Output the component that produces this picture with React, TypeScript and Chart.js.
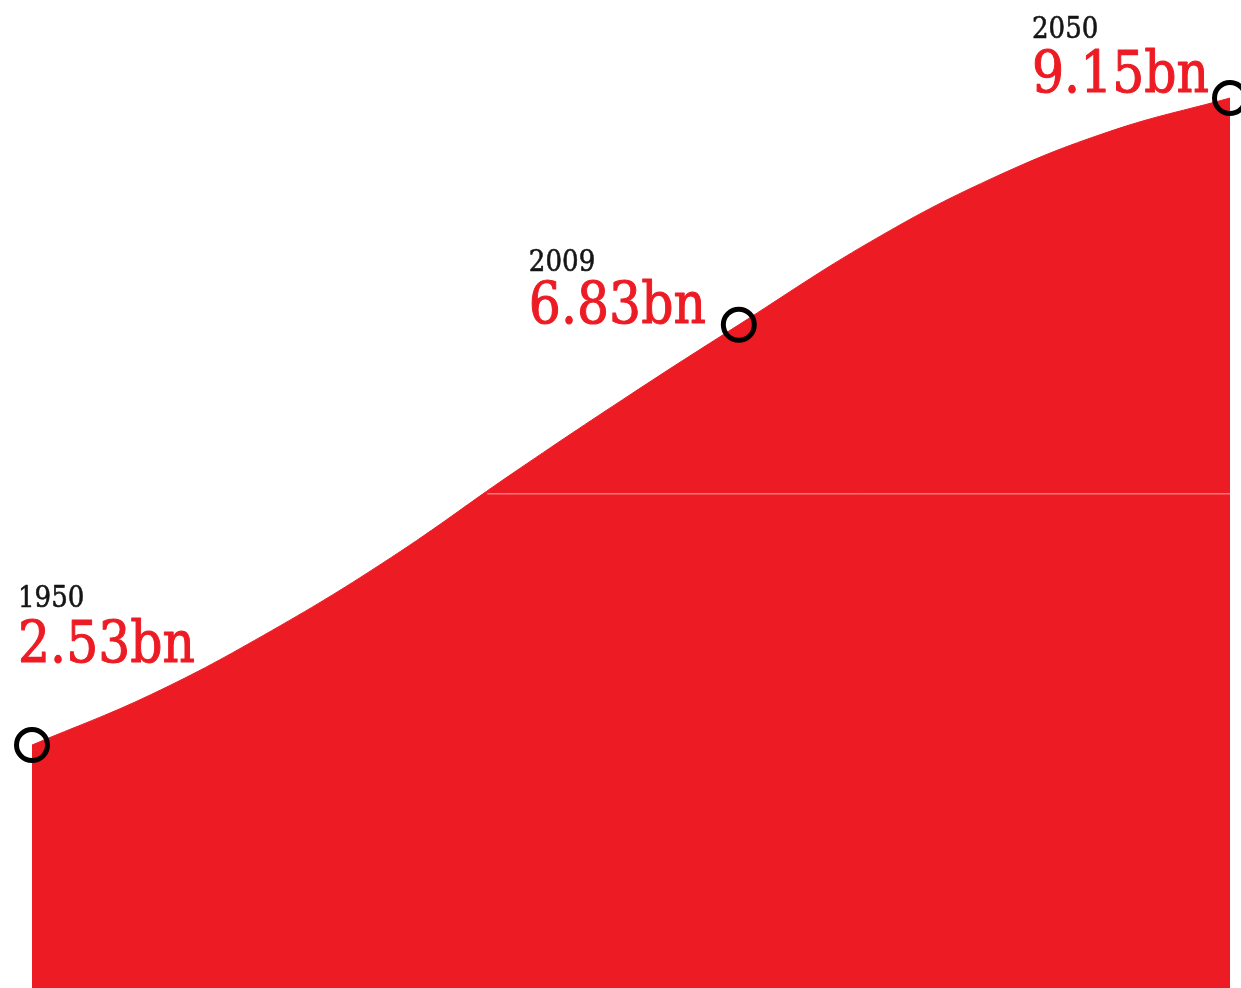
import React, { useEffect, useRef } from "react";
import { Chart, registerables } from "chart.js";

Chart.register(...registerables);

// World population (billions)
const years = [1950, 1960, 1970, 1980, 1990, 2000, 2009, 2020, 2030, 2040, 2050];
const population = [2.53, 3.05, 3.70, 4.45, 5.30, 6.12, 6.83, 7.68, 8.32, 8.81, 9.15];

// Highlighted points and their labels
const highlightYears = [1950, 2009, 2050];
const highlightLabels = ["2.53bn", "6.83bn", "9.15bn"];

// faint horizontal rule across the fill
const ruleYears = [1988, 2050];
const ruleValues = [5.1, 5.1];

// label placement relative to the marker (style)
const labelOffsets = [
  { dx: -14, yearDy: -138, valueDy: -83 },
  { dx: -210, yearDy: -54, valueDy: -2 },
  { dx: -198, yearDy: -60, valueDy: -6 },
];

const RED = "#ED1C24";

const labelPlugin = {
  id: "pointLabels",
  afterDatasetsDraw(chart: any) {
    const ctx = chart.ctx;
    const xs = chart.scales.x;
    const ys = chart.scales.y;
    highlightYears.forEach((yr, i) => {
      const idx = years.indexOf(yr);
      const px = xs.getPixelForValue(yr);
      const py = ys.getPixelForValue(population[idx]);
      const o = labelOffsets[i];
      ctx.save();
      ctx.textAlign = "left";
      ctx.textBaseline = "alphabetic";
      ctx.lineJoin = "round";
      ctx.save();
      ctx.translate(px + o.dx, py + o.yearDy);
      ctx.scale(0.9, 1);
      ctx.font = '29px "DejaVu Serif"';
      ctx.fillStyle = "#151515";
      ctx.strokeStyle = "#151515";
      ctx.lineWidth = 0.6;
      ctx.fillText(String(yr), 0, 0);
      ctx.strokeText(String(yr), 0, 0);
      ctx.restore();
      ctx.save();
      ctx.translate(px + o.dx, py + o.valueDy);
      ctx.scale(0.885, 1);
      ctx.font = '57px "DejaVu Serif"';
      ctx.fillStyle = RED;
      ctx.strokeStyle = RED;
      ctx.lineWidth = 1.1;
      ctx.fillText(highlightLabels[i], 0, 0);
      ctx.strokeText(highlightLabels[i], 0, 0);
      ctx.restore();
      ctx.restore();
    });
  },
};

export default function App() {
  const ref = useRef<HTMLCanvasElement | null>(null);

  useEffect(() => {
    if (!ref.current) return;
    const data = years.map((y, i) => ({ x: y, y: population[i] }));
    const radii = years.map((y) => (highlightYears.includes(y) ? 15.5 : 0));
    const chart = new Chart(ref.current, {
      type: "line",
      data: {
        datasets: [
          {
            data: ruleYears.map((y, i) => ({ x: y, y: ruleValues[i] })),
            borderColor: "rgba(255,255,255,0.6)",
            borderWidth: 1,
            pointRadius: 0,
            fill: false,
            order: 0,
          },
          {
            data,
            borderColor: RED,
            borderWidth: 1,
            backgroundColor: RED,
            fill: "start",
            tension: 0.4,
            pointRadius: radii,
            pointHoverRadius: radii,
            pointBorderColor: "#000",
            pointBackgroundColor: "rgba(0,0,0,0)",
            pointBorderWidth: 5,
            clip: false as any,
            order: 1,
          },
        ],
      },
      options: {
        animation: false,
        responsive: false,
        maintainAspectRatio: false,
        layout: { autoPadding: false, padding: { left: 32, right: 11, top: 0, bottom: 0 } },
        plugins: {
          legend: { display: false },
          tooltip: { enabled: false },
        },
        scales: {
          x: { type: "linear", min: 1950, max: 2050, display: false },
          y: { type: "linear", min: 0.044, max: 10.153, display: false },
        },
      },
      plugins: [labelPlugin],
    });
    return () => chart.destroy();
  }, []);

  return (
    <div style={{ position: "absolute", left: 0, top: 0, width: 1241, height: 988, background: "#fff" }}>
      <canvas ref={ref} width={1241} height={988} style={{ display: "block", width: 1241, height: 988 }} />
    </div>
  );
}
